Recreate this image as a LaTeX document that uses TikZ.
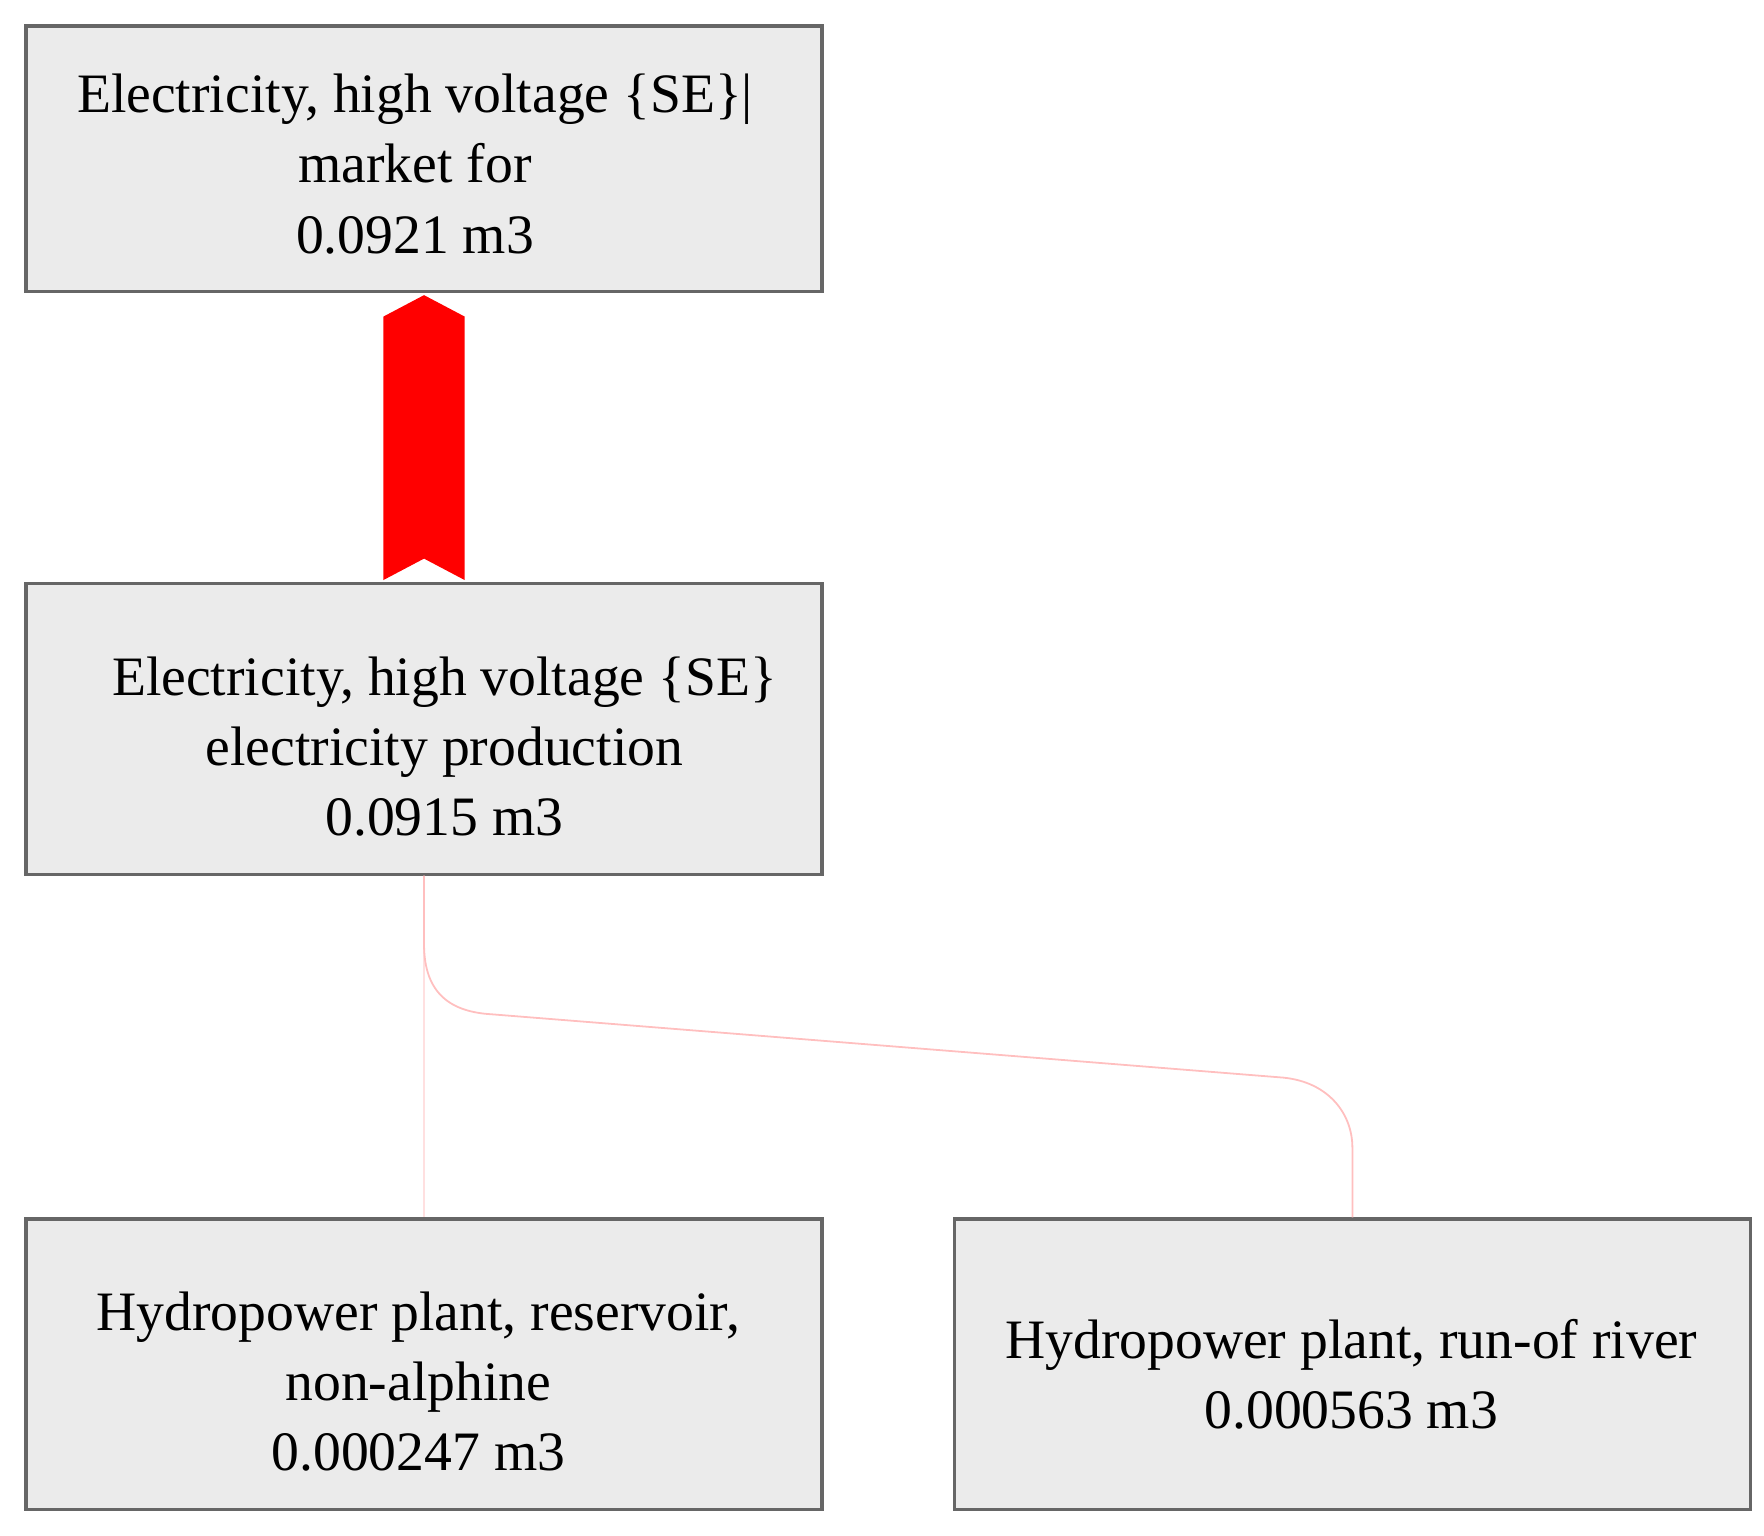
\documentclass[tikz,border=0pt]{standalone}
\usepackage{fontspec}
\setmainfont{Liberation Serif}
\begin{document}
\begin{tikzpicture}[x=0.02cm,y=-0.02cm,
  box/.style={draw=black!60,line width=1.6pt,fill=black!8,minimum width=704*0.02cm,minimum height=#1*0.02cm,inner sep=0pt},
  txt/.style={align=center,font=\fontsize{28}{35.3}\selectfont,inner sep=0pt},
  link/.style={draw=red!25,line width=0.9pt}]
\useasboundingbox (0,0) rectangle (1560,1357.5);
\node[box=235] (top) at (375,140.5) {};
\node[box=257] (mid) at (375,644.5) {};
\node[box=257] (bl) at (375,1206.5) {};
\node[box=257] (br) at (1196,1206.5) {};
\node[txt] (t1) at (367,145) {Electricity, high voltage \{SE\}|\\market for\\0.0921 m3};
\node[txt] (t2) at (393,660) {Electricity, high voltage \{SE\}\\electricity production\\0.0915 m3};
\node[txt] (t3) at (370,1222) {Hydropower plant, reservoir,\\non-alphine\\0.000247 m3};
\node[txt] (t4) at (1195,1215) {Hydropower plant, run-of river\\0.000563 m3};
\fill[red] (339,513) -- (339,280) -- (375,261) -- (411,280) -- (411,513) -- (375,494) -- cycle;
\draw[draw=red!12,line width=0.9pt] (mid.south) -- (bl.north);
\draw[link] (mid.south) -- (375,835) .. controls (375,880) and (400,895) .. (435,897) -- (1135,953) .. controls (1175,957) and (1196,985) .. (1196,1015) -- (br.north);
\end{tikzpicture}
\end{document}
